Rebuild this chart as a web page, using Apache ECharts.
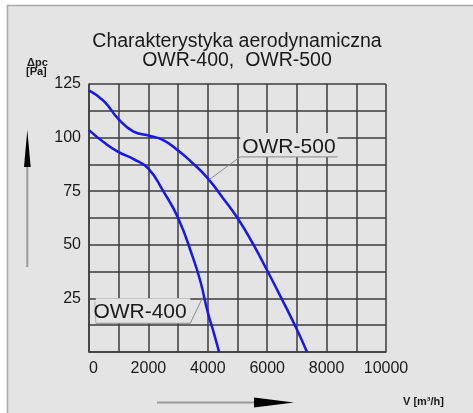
<!DOCTYPE html>
<html>
<head>
<meta charset="utf-8">
<script src="https://cdn.jsdelivr.net/npm/echarts@6/dist/echarts.min.js"></script>
<style>html,body{margin:0;padding:0;background:#fff}#c{width:473px;height:413px}</style>
</head>
<body>
<div id="c"></div>
<script>
// ---- data ----
var flowOWR400 = [0, 500, 1000, 1500, 2000, 2500, 3000, 3500, 3750, 4000, 4200, 4380];
var presOWR400 = [103.5, 97.8, 93.2, 90, 85.5, 75, 62.5, 44, 33, 18.5, 9, 0];
var flowOWR500 = [0, 500, 1000, 1500, 2000, 2500, 3000, 3500, 4000, 4500, 5000, 5500, 6000, 6500, 7000, 7340];
var presOWR500 = [122, 117, 108.5, 102.8, 101, 98.8, 94, 88, 81, 72, 62.5, 51, 38, 24.5, 10.5, 0];
var seriesNames = ['OWR-400', 'OWR-500'];
var xTickLabels = ['0', '2000', '4000', '6000', '8000', '10000'];
var yTickLabels = ['25', '50', '75', '100', '125'];
var titleLines = ['Charakterystyka aerodynamiczna', 'OWR-400,  OWR-500'];

function pairs(xs, ys) { return xs.map(function (x, i) { return [x, ys[i]]; }); }

var chart = echarts.init(document.getElementById('c'), null, { renderer: 'canvas' });
var gridColor = '#3c3c3c';
var txt = '#1a1a1a';
var font = 'Liberation Sans, Arial, sans-serif';

var option = {
  backgroundColor: '#e4e4e4',
  animation: false,
  grid: { left: 89, right: 87, top: 84, bottom: 61, containLabel: false },
  xAxis: {
    type: 'value', min: 0, max: 10000, interval: 1000,
    axisLine: { show: true, lineStyle: { color: gridColor, width: 1.5 } },
    axisTick: { show: false },
    splitLine: { show: true, lineStyle: { color: gridColor, width: 1.5 } },
    axisLabel: {
      margin: 9, color: txt, fontSize: 16, fontFamily: font,
      formatter: function (v) { var s = String(v); return xTickLabels.indexOf(s) >= 0 ? (s === '0' ? '  0' : s) : ''; }
    }
  },
  yAxis: {
    type: 'value', min: 0, max: 125, interval: 12.5,
    axisLine: { show: true, lineStyle: { color: gridColor, width: 1.5 } },
    axisTick: { show: false },
    splitLine: { show: true, lineStyle: { color: gridColor, width: 1.5 } },
    axisLabel: {
      margin: 8, color: txt, fontSize: 16, fontFamily: font,
      formatter: function (v) { var s = String(v); return yTickLabels.indexOf(s) >= 0 ? s : ''; }
    }
  },
  series: [
    { name: seriesNames[0], type: 'line', data: pairs(flowOWR400, presOWR400), smooth: 0.5, showSymbol: false,
      lineStyle: { color: '#1515f5', width: 2.5 }, z: 5 },
    { name: seriesNames[1], type: 'line', data: pairs(flowOWR500, presOWR500), smooth: 0.5, showSymbol: false,
      lineStyle: { color: '#1515f5', width: 2.5 }, z: 5 }
  ]
};
chart.setOption(option);

// annotations (callout anchors in data space)
function px(p) { return chart.convertToPixel({ gridIndex: 0 }, p); }
var a5 = px([4060, 80.5]), b5 = px([5090, 91]), c5 = px([8370, 91]);
var a4 = px([3830, 25.5]), b4 = px([3410, 13.4]), c4 = px([230, 13.4]);

var g = [
  // white outside frame
  { type: 'rect', shape: { x: 0, y: 0, width: 473, height: 5 }, style: { fill: '#ffffff' }, z: 50 },
  { type: 'rect', shape: { x: 0, y: 0, width: 7, height: 413 }, style: { fill: '#ffffff' }, z: 50 },
  { type: 'polyline', shape: { points: [[7.5, 413], [7.5, 5.5], [473, 5.5]] }, style: { stroke: '#a8a8a8', lineWidth: 1.5, fill: null }, z: 51 },
  // title
  { type: 'text', style: { text: titleLines[0], x: 237, y: 42, align: 'center', verticalAlign: 'middle', fill: txt, font: '19.5px ' + font }, z: 60 },
  { type: 'text', style: { text: titleLines[1], x: 237, y: 61, align: 'center', verticalAlign: 'middle', fill: txt, font: '19.5px ' + font }, z: 60 },
  // axis names
  { type: 'text', style: { text: 'Δpc', x: 27, y: 63, align: 'left', verticalAlign: 'middle', fill: txt, font: 'bold 11px ' + font }, z: 60 },
  { type: 'text', style: { text: '[Pa]', x: 26, y: 72, align: 'left', verticalAlign: 'middle', fill: txt, font: 'bold 11px ' + font }, z: 60 },
  { type: 'text', style: { text: 'V [m³/h]', x: 403, y: 402, align: 'left', verticalAlign: 'middle', fill: txt, font: 'bold 11px ' + font }, z: 60 },
  // arrows
  { type: 'line', shape: { x1: 27.3, y1: 267, x2: 27.3, y2: 160 }, style: { stroke: '#9a9a9a', lineWidth: 2 }, z: 60 },
  { type: 'polygon', shape: { points: [[27.3, 130], [24, 167], [30.7, 167]] }, style: { fill: '#000' }, z: 61 },
  { type: 'line', shape: { x1: 157, y1: 402.5, x2: 260, y2: 402.5 }, style: { stroke: '#9a9a9a', lineWidth: 2 }, z: 60 },
  { type: 'polygon', shape: { points: [[294, 402.5], [254, 397.5], [254, 407.5]] }, style: { fill: '#000' }, z: 61 },
  // OWR-500 callout
  { type: 'rect', shape: { x: b5[0], y: b5[1] - 24, width: c5[0] - b5[0], height: 24 }, style: { fill: '#e4e4e4' }, z: 60 },
  { type: 'polyline', shape: { points: [a5, b5, c5] }, style: { stroke: '#8a8a8a', lineWidth: 1, fill: null }, z: 61 },
  { type: 'text', style: { text: seriesNames[1], x: (b5[0] + c5[0]) / 2, y: b5[1] - 10, align: 'center', verticalAlign: 'middle', fill: txt, font: '21px ' + font }, z: 62 },
  // OWR-400 callout
  { type: 'rect', shape: { x: c4[0], y: a4[1] + 1, width: b4[0] - c4[0], height: b4[1] - a4[1] - 1 }, style: { fill: '#e4e4e4' }, z: 60 },
  { type: 'polyline', shape: { points: [c4, b4, a4] }, style: { stroke: '#8a8a8a', lineWidth: 1, fill: null }, z: 61 },
  { type: 'polyline', shape: { points: [[c4[0], c4[1]], [c4[0] - 1, a4[1] + 4]] }, style: { stroke: '#b0b0b0', lineWidth: 1, fill: null }, z: 61 },
  { type: 'text', style: { text: seriesNames[0], x: (b4[0] + c4[0]) / 2 - 3, y: c4[1] - 11, align: 'center', verticalAlign: 'middle', fill: txt, font: '21px ' + font }, z: 62 }
];
chart.setOption({ graphic: g });
</script>
</body>
</html>
